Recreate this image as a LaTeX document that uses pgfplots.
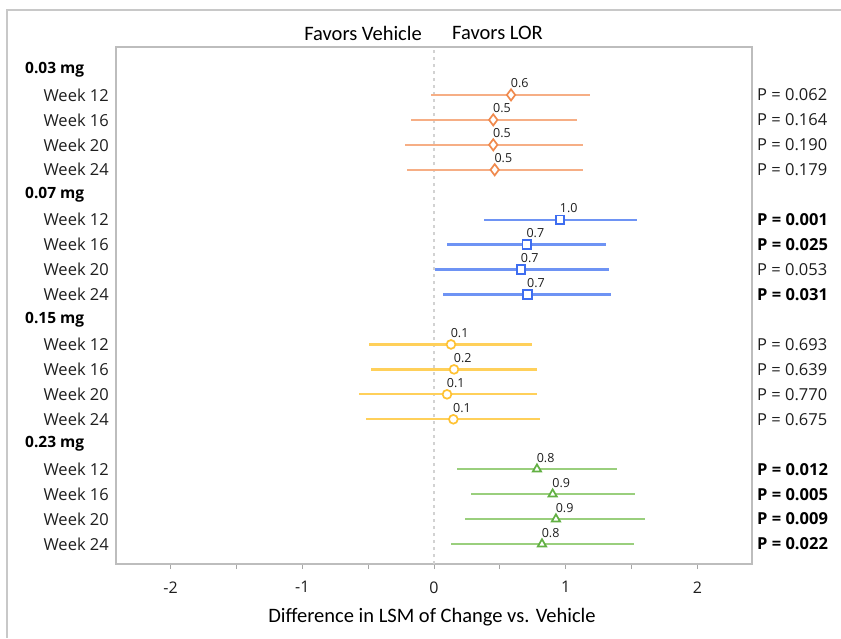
\documentclass[border=0pt]{standalone}
\usepackage{fontspec}
\setmainfont{Open Sans}
\newfontfamily\carl{Carlito}
\usepackage{pgfplots}
\pgfplotsset{compat=1.18}
\usepackage{pgfplotstable}

\definecolor{frame}{HTML}{C8C8C8}
\definecolor{axc}{HTML}{BDBDBD}
\definecolor{txt}{HTML}{1E1E1E}
\definecolor{orL}{HTML}{F6AE85}
\definecolor{orM}{HTML}{F08A4E}
\definecolor{blL}{HTML}{6E93F4}
\definecolor{blM}{HTML}{3E6DF0}
\definecolor{yeL}{HTML}{FFD05A}
\definecolor{yeM}{HTML}{FFC233}
\definecolor{grL}{HTML}{9ACF7D}
\definecolor{grM}{HTML}{62B043}

\pgfplotstableread{
y x lo hi lab
-1 0.585 -0.025 1.185 0.6
-2 0.450 -0.177 1.088 0.5
-3 0.450 -0.218 1.134 0.5
-4 0.461 -0.207 1.134 0.5
}\dA
\pgfplotstableread{
y x lo hi lab
-6 0.957 0.380 1.544 1.0
-7 0.704 0.096 1.306 0.7
-8 0.661 0.005 1.326 0.7
-9 0.709 0.071 1.342 0.7
}\dB
\pgfplotstableread{
y x lo hi lab
-11 0.129 -0.491 0.746 0.1
-12 0.152 -0.476 0.784 0.2
-13 0.099 -0.572 0.784 0.1
-14 0.147 -0.516 0.805 0.1
}\dC
\pgfplotstableread{
y x lo hi lab
-16 0.782 0.177 1.387 0.8
-17 0.901 0.283 1.524 0.9
-18 0.926 0.238 1.604 0.9
-19 0.820 0.127 1.519 0.8
}\dD

\newcommand{\rowfont}{\fontsize{16.5}{18}\selectfont}
\newcommand{\hdfont}{\fontsize{15.5}{17}\selectfont\bfseries}
\newcommand{\hd}[2]{\node[anchor=west, inner sep=0pt, font=\hdfont, color=black] at (axis cs:-3.106,#1) {#2};}
\newcommand{\wk}[2]{\node[anchor=east, inner sep=0pt, font=\rowfont, color=txt] at (axis cs:-2.468,#1) {Week #2};}
\newcommand{\pv}[2]{\node[anchor=west, inner sep=0pt, font=\rowfont, color=txt] at (axis cs:2.453,#1) {P = #2};}
\newcommand{\pb}[2]{\node[anchor=west, inner sep=0pt, font=\rowfont\bfseries, color=black] at (axis cs:2.453,#1) {P = #2};}

\begin{document}
\begin{tikzpicture}
\useasboundingbox (0,0) rectangle (841pt,-638pt);
\draw[color=frame, line width=2pt] (841pt,-10pt) -- (7pt,-10pt) -- (7pt,-638pt);
\begin{axis}[
  at={(116pt,-564pt)}, anchor=south west,
  scale only axis, width=636pt, height=517pt,
  xmin=-2.415, xmax=2.415, ymin=-19.8, ymax=0.92,
  clip=false,
  axis line style={color=axc, line width=1.5pt},
  ytick=\empty,
  xtick={-2,-1,0,1,2},
  minor xtick={-1.5,-0.5,0.5,1.5},
  xtick pos=bottom,
  tick align=outside,
  major tick length=5pt, minor tick length=5pt,
  every tick/.style={color=gray!70, line width=1pt},
  xticklabel style={font=\fontsize{16}{18}\selectfont, color=txt, anchor=north, yshift=-9pt},
  /pgf/number format/assume math mode=true,
  error bars/x dir=both,
  error bars/x explicit,
  error bars/error mark=none,
  every node near coord/.append style={font=\fontsize{12.5}{14}\selectfont, color=txt, anchor=south west, inner sep=0pt, yshift=6pt, xshift=-1pt},
  nodes near coords,
  point meta=explicit symbolic,
]
\draw[color=gray!35, line width=1.2pt, dash pattern=on 3pt off 4pt] (axis cs:0,-19.8) -- (axis cs:0,0.92);

\addplot[only marks, mark=diamond*, mark size=5.6pt, mark options={draw=orM, fill=white, line width=1.7pt},
  error bars/error bar style={color=orL, line width=2.3pt}]
  table[x=x, y=y, meta=lab, x error plus expr=\thisrow{hi}-\thisrow{x}, x error minus expr=\thisrow{x}-\thisrow{lo}] {\dA};
\addplot[only marks, mark=square*, mark size=4.3pt, mark options={draw=blM, fill=white, line width=1.7pt},
  error bars/error bar style={color=blL, line width=2.3pt}]
  table[x=x, y=y, meta=lab, x error plus expr=\thisrow{hi}-\thisrow{x}, x error minus expr=\thisrow{x}-\thisrow{lo}] {\dB};
\addplot[only marks, mark=*, mark size=4.4pt, mark options={draw=yeM, fill=white, line width=1.7pt},
  error bars/error bar style={color=yeL, line width=2.3pt}]
  table[x=x, y=y, meta=lab, x error plus expr=\thisrow{hi}-\thisrow{x}, x error minus expr=\thisrow{x}-\thisrow{lo}] {\dC};
\addplot[only marks, mark=triangle*, mark size=4.8pt, mark options={draw=grM, fill=white, line width=1.7pt},
  error bars/error bar style={color=grL, line width=2.3pt}]
  table[x=x, y=y, meta=lab, x error plus expr=\thisrow{hi}-\thisrow{x}, x error minus expr=\thisrow{x}-\thisrow{lo}] {\dD};

\hd{0}{0.03 mg}\hd{-5}{0.07 mg}\hd{-10}{0.15 mg}\hd{-15}{0.23 mg}
\wk{-1}{12}\wk{-2}{16}\wk{-3}{20}\wk{-4}{24}
\wk{-6}{12}\wk{-7}{16}\wk{-8}{20}\wk{-9}{24}
\wk{-11}{12}\wk{-12}{16}\wk{-13}{20}\wk{-14}{24}
\wk{-16}{12}\wk{-17}{16}\wk{-18}{20}\wk{-19}{24}
\pv{-1}{0.062}\pv{-2}{0.164}\pv{-3}{0.190}\pv{-4}{0.179}
\pb{-6}{0.001}\pb{-7}{0.025}\pv{-8}{0.053}\pb{-9}{0.031}
\pv{-11}{0.693}\pv{-12}{0.639}\pv{-13}{0.770}\pv{-14}{0.675}
\pb{-16}{0.012}\pb{-17}{0.005}\pb{-18}{0.009}\pb{-19}{0.022}

\node[anchor=east, inner sep=0pt, font=\carl\fontsize{20.5}{22}\selectfont, color=black] at (axis cs:-0.091,1.48) {Favors Vehicle};
\node[anchor=west, inner sep=0pt, font=\carl\fontsize{20.5}{22}\selectfont, color=black] at (axis cs:0.137,1.48) {Favors LOR};
\node[anchor=center, inner sep=0pt, font=\carl\fontsize{20.5}{22}\selectfont, color=black] at (axis cs:-0.015,-21.92) {Difference in LSM of Change vs. Vehicle};
\end{axis}
\end{tikzpicture}
\end{document}
